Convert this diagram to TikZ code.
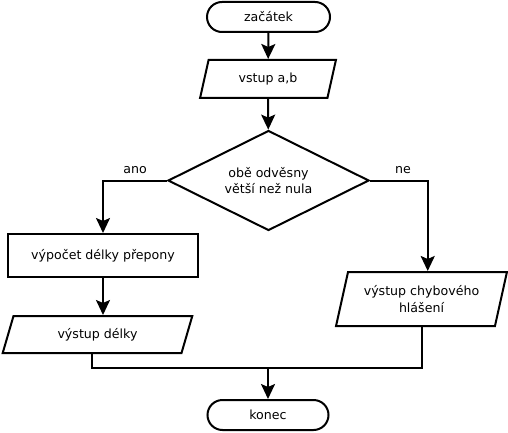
\documentclass[tikz,border=0pt]{standalone}
\usepackage{fontspec}
\setmainfont{DejaVu Sans}
\usetikzlibrary{shapes.geometric,arrows.meta,calc}
\begin{document}
\begin{tikzpicture}[x=1pt,y=-1pt,
  every node/.style={font=\fontsize{12.6}{16.5}\selectfont},
  base/.style={draw=black, line width=2pt, inner sep=0pt, align=center},
  term/.style={base, rectangle, rounded corners=15pt, minimum width=123pt, minimum height=30pt},
  iobox/.style n args={2}{base, trapezium, trapezium stretches=true, trapezium left angle=#1, trapezium right angle=#2},
  decbox/.style={base, diamond, aspect=2, minimum width=201pt, minimum height=100pt},
  procbox/.style={base, rectangle, minimum width=190pt, minimum height=43pt},
  lbl/.style={inner sep=0pt},
  conn/.style={line width=2pt, draw=black},
  arr/.style={conn, -{Stealth[length=15pt,width=14pt,inset=3pt]}}]
\useasboundingbox (0,0) rectangle (508,433);
\node[term] (start) at (268.5,17) {začátek};
\node[iobox={71}{109}, minimum width=136pt, minimum height=38pt] (in) at (268,79) {vstup a,b};
\node[decbox] (d) at (268.5,180.5) {obě odvěsny\\větší než nula};
\node[procbox] (p) at (103,255.5) {výpočet délky přepony};
\node[iobox={68}{112}, minimum width=191pt, minimum height=37pt] (o1) at (97.5,334.5) {výstup délky};
\node[iobox={70.6}{109.4}, minimum width=171pt, minimum height=54pt] (o2) at (421.5,299) {výstup chybového\\hlášení};
\node[term, minimum width=121pt] (end) at (268,415) {konec};
\node[lbl] (ano) at (135,170) {ano};
\node[lbl] (ne) at (403,170) {ne};
\coordinate (j) at (268,368);
\draw[arr] (start) -- (in);
\draw[arr] (in) -- (d);
\draw[arr] (d.west) -| (p.north);
\draw[arr] (d.east) -| ($(o2.top left corner)!0.5!(o2.top right corner)$);
\draw[arr] (p.south) -- (p.south |- o1.north);
\draw[conn] ($(o1.bottom left corner)!0.5!(o1.bottom right corner)$) |- (j);
\draw[conn] (o2.south) |- (j);
\draw[arr] (j) -- (end.north);
\end{tikzpicture}
\end{document}
